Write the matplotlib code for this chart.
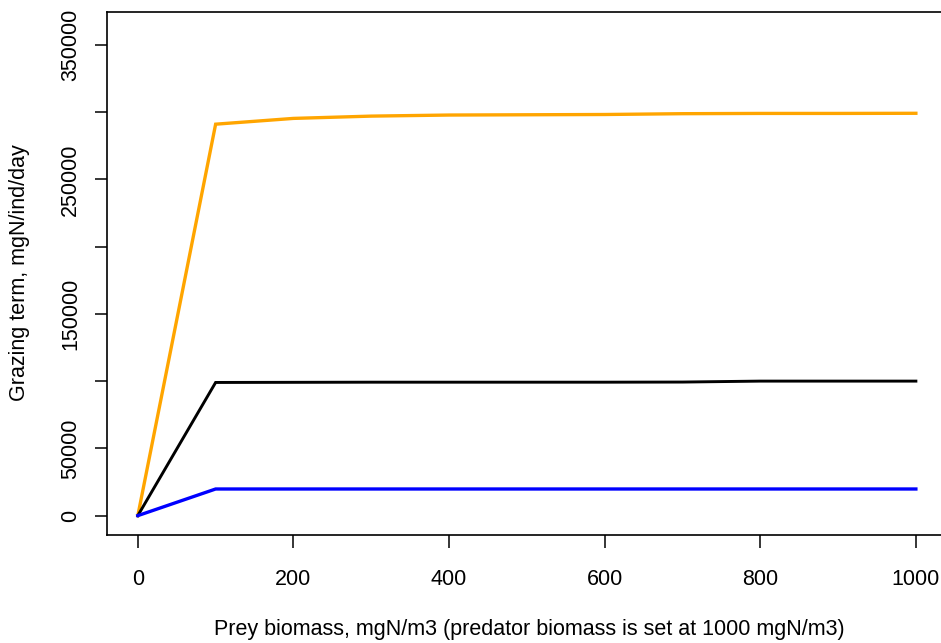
import numpy as np
import matplotlib.pyplot as plt

plt.rcParams['font.family'] = ['Liberation Sans', 'DejaVu Sans']

# prey biomass, mgN/m3
prey = [0, 100, 200, 300, 400, 500, 600, 700, 800, 900, 1000]

# grazing term for three parameter sets, mgN/ind/day
graz_orange = [0, 291000, 295300, 297000, 297800, 298000, 298200, 298800, 299000, 299000, 299100]
graz_black = [0, 99000, 99100, 99200, 99200, 99200, 99200, 99300, 100000, 100000, 100000]
graz_blue = [0, 19800, 19800, 19800, 19800, 19800, 19800, 19800, 19800, 19800, 19800]

yticks = [0, 50000, 100000, 150000, 200000, 250000, 300000, 350000]
ylabels = ['0', '50000', '', '150000', '', '250000', '', '350000']
xticks = [0, 200, 400, 600, 800, 1000]

W, H = 941, 643
fig = plt.figure(figsize=(W / 100, H / 100), dpi=100)
ax = fig.add_axes([106.7 / W, 1 - 535 / H, (947 - 106.7) / W, (535 - 12) / H])

ax.plot(prey, graz_orange, color='orange', lw=2.4, solid_joinstyle='miter')
ax.plot(prey, graz_black, color='black', lw=2.1, solid_joinstyle='miter')
ax.plot(prey, graz_blue, color='blue', lw=2.4, solid_joinstyle='miter')

ax.set_xlim(-40, 1040)
ax.set_ylim(-14400, 374400)

ax.set_xticks(xticks)
ax.set_xticklabels([str(t) for t in xticks])
ax.set_yticks(yticks)
ax.set_yticklabels(ylabels, rotation=90, va='center')

ax.tick_params(axis='both', direction='out', length=9, width=1.1, labelsize=15.5, colors='black')
ax.tick_params(axis='x', pad=15.5)
ax.tick_params(axis='y', pad=9.5)

for s in ax.spines.values():
    s.set_linewidth(1.2)
    s.set_color('black')

fig.text(529 / W, 1 - 630 / H, 'Prey biomass, mgN/m3 (predator biomass is set at 1000 mgN/m3)',
         ha='center', va='center', fontsize=15.5)
fig.text(20 / W, 1 - 273 / H, 'Grazing term, mgN/ind/day', rotation=90,
         ha='center', va='center', fontsize=15.5)

fig.savefig('out.png', dpi=100)
